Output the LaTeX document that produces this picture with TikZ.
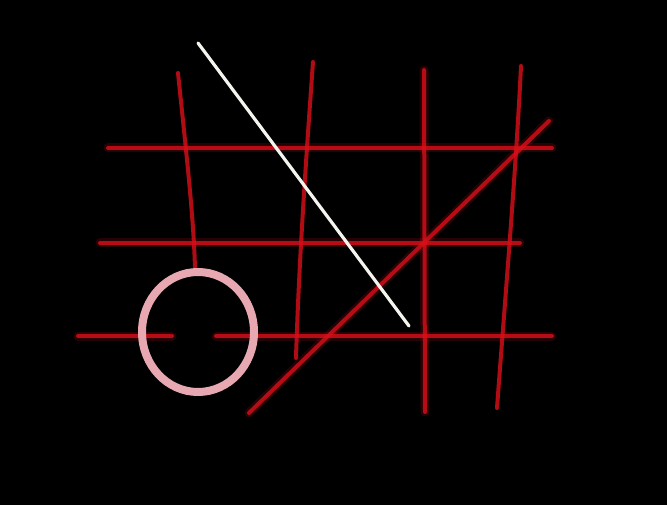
\documentclass[tikz,border=0pt]{standalone}
\definecolor{laser}{RGB}{215,15,25}
\definecolor{pinkring}{RGB}{232,168,178}
\definecolor{chalk}{RGB}{245,245,240}
\begin{document}
\begin{tikzpicture}[x=1pt,y=-1pt,
  redline/.style={draw=laser,line width=4pt,opacity=0.82,line cap=round},
  glow/.style={draw=laser,line width=9pt,opacity=0.18,line cap=round}]
\fill[black] (0,0) rectangle (667,505);
\useasboundingbox (0,0) rectangle (667,505);
% glow layer
\foreach \p in {
  {(108,148) -- (552,148)},
  {(100,243) -- (520,243)},
  {(78,336) -- (172,336)},
  {(216,336) -- (552,336)},
  {(424,70) -- (425,412)},
  {(249,413) -- (549,121)}}{
  \expandafter\draw\expandafter[\expandafter g\expandafter l\expandafter o\expandafter w\expandafter]\p;
}
% horizontal lines
\draw[redline] (108,148) -- (552,148);
\draw[redline] (100,243) -- (520,243);
\draw[redline] (78,336) -- (172,336);
\draw[redline] (216,336) -- (552,336);
% vertical lines (hand drawn, slightly curved)
\draw[redline] (178,73) .. controls (186,150) and (194,220) .. (195,270);
\draw[redline] (313,62) .. controls (306,160) and (299,260) .. (296,358);
\draw[redline] (424,70) -- (425,412);
\draw[redline] (521,66) .. controls (516,170) and (505,300) .. (497,408);
% red diagonal
\draw[redline] (249,413) -- (549,121);
% white diagonal
\draw[draw=chalk,line width=3.2pt,line cap=round] (198,43) -- (409,326);
% pink ring
\draw[draw=pinkring,line width=8pt] (198,332) ellipse [x radius=56, y radius=60];
\end{tikzpicture}
\end{document}
